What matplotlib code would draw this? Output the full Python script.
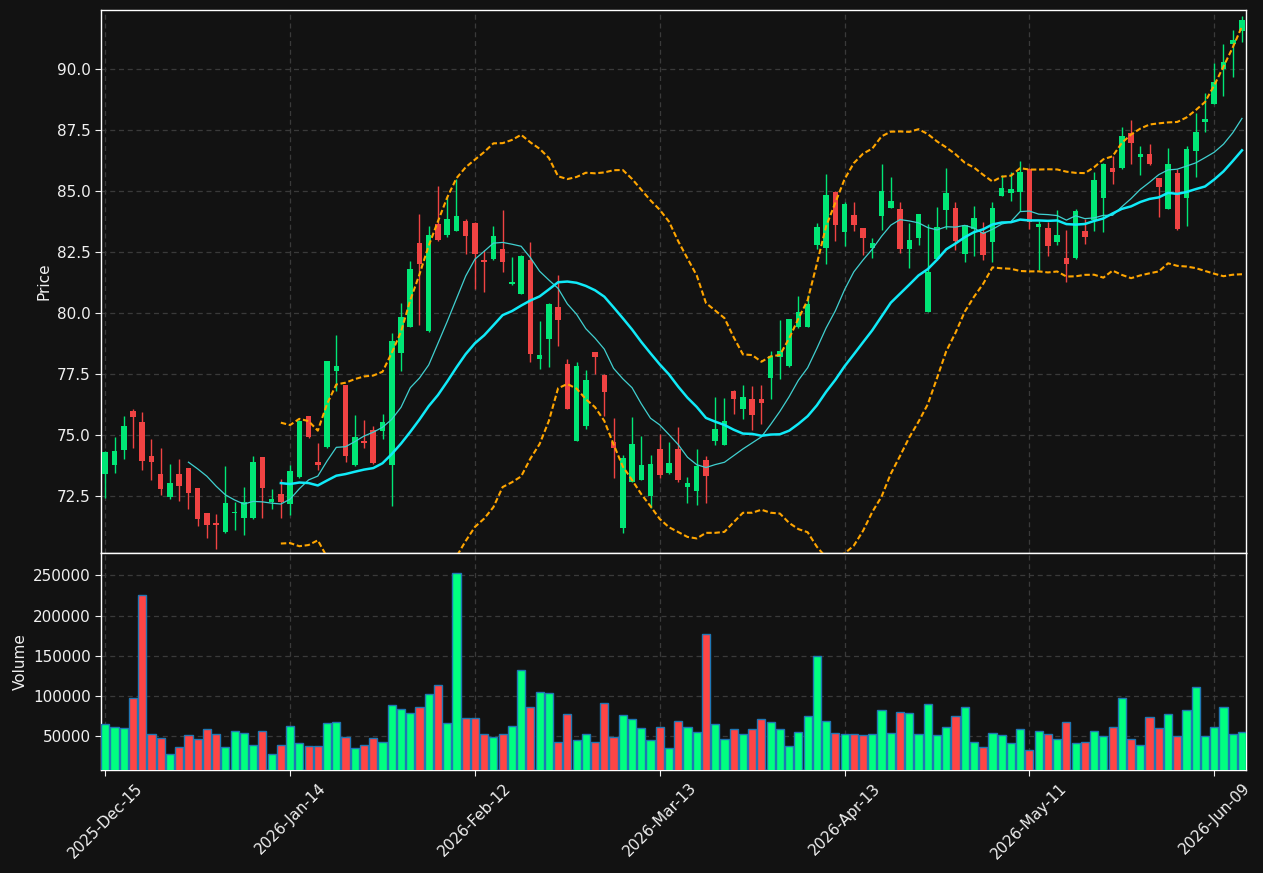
import matplotlib.pyplot as plt
import numpy as np
import pandas as pd
from matplotlib.ticker import FixedLocator

# trading days (NYSE calendar), first 2025-12-15
holidays = ['2025-12-25', '2026-01-01', '2026-01-19', '2026-02-16', '2026-04-03', '2026-05-25']
n_bars = 124

opens = [73.42, 73.77, 74.40, 75.98, 75.53, 74.14, 73.40, 72.46, 73.40, 73.65,
         72.83, 71.80, 71.39, 71.04, 71.80, 71.60, 71.60, 74.10, 72.27, 72.58,
         72.17, 73.29, 75.78, 73.89, 74.52, 77.64, 77.05, 73.78, 74.75, 75.20,
         75.18, 73.78, 78.38, 79.44, 82.87, 79.27, 83.65, 83.21, 83.37, 83.77,
         83.69, 82.18, 82.23, 82.64, 81.21, 80.79, 82.18, 78.13, 78.96, 80.26,
         77.92, 74.78, 75.40, 78.41, 77.47, 74.72, 71.21, 73.10, 73.19, 72.53,
         74.43, 73.45, 74.44, 72.89, 72.73, 73.99, 74.78, 74.61, 76.82, 76.09,
         76.49, 76.49, 77.36, 78.22, 77.85, 79.45, 79.45, 82.80, 82.69, 84.97,
         83.34, 84.03, 83.48, 82.69, 84.00, 84.33, 84.27, 82.65, 83.10, 80.06,
         82.22, 84.21, 84.32, 82.44, 83.45, 83.32, 82.92, 84.81, 84.92, 84.97,
         85.91, 83.55, 83.51, 82.93, 82.28, 82.25, 83.37, 83.82, 84.74, 85.95,
         85.93, 87.37, 86.39, 86.53, 85.53, 84.29, 85.75, 84.74, 86.65, 87.85,
         88.58, 90.00, 91.04, 91.58]
highs = [74.35, 74.93, 75.78, 76.09, 75.97, 74.86, 74.50, 73.81, 74.04, 73.68,
         72.85, 71.82, 71.79, 73.73, 72.27, 72.87, 74.14, 74.12, 72.81, 73.20,
         73.79, 75.62, 75.80, 74.70, 78.05, 79.10, 77.08, 75.85, 75.61, 75.40,
         75.89, 79.19, 80.44, 82.13, 84.06, 83.59, 85.20, 84.75, 85.49, 83.85,
         83.72, 82.59, 83.58, 84.23, 82.30, 82.37, 82.93, 79.70, 80.40, 81.56,
         78.11, 77.99, 77.66, 78.43, 77.50, 75.73, 74.21, 75.76, 74.98, 74.19,
         75.07, 74.72, 75.33, 73.30, 74.43, 74.15, 76.58, 76.54, 76.84, 77.05,
         77.01, 77.05, 78.44, 79.74, 79.77, 80.70, 80.74, 83.70, 85.70, 85.00,
         84.57, 84.55, 83.50, 83.07, 86.11, 85.60, 84.57, 83.69, 84.08, 83.65,
         84.35, 85.97, 84.57, 83.62, 84.41, 83.72, 84.55, 85.68, 85.79, 86.23,
         85.93, 83.76, 83.75, 84.23, 83.41, 84.27, 83.86, 85.78, 86.14, 86.45,
         87.62, 87.92, 86.86, 86.93, 85.55, 86.76, 85.89, 86.86, 88.20, 89.02,
         90.25, 91.02, 91.61, 92.18]
lows = [72.45, 73.47, 74.05, 74.50, 73.57, 73.16, 72.54, 72.39, 72.32, 71.98,
        71.30, 70.80, 70.36, 71.02, 71.12, 70.93, 71.58, 71.62, 71.98, 71.62,
        71.74, 73.25, 74.90, 73.57, 74.50, 76.82, 73.91, 73.76, 74.50, 73.84,
        74.84, 72.12, 77.64, 79.42, 79.51, 79.25, 82.98, 83.14, 83.35, 82.41,
        80.98, 80.88, 82.20, 81.68, 81.17, 80.77, 78.00, 77.73, 77.79, 78.67,
        76.07, 74.76, 75.24, 77.51, 75.79, 73.27, 71.00, 73.08, 73.17, 72.02,
        73.27, 73.43, 73.10, 72.24, 72.14, 72.21, 74.61, 74.59, 75.86, 75.68,
        75.20, 75.45, 76.48, 77.32, 77.79, 79.38, 79.43, 82.62, 82.01, 82.98,
        82.77, 83.38, 82.38, 82.28, 83.41, 84.31, 82.46, 81.84, 82.80, 80.04,
        82.20, 83.44, 82.59, 82.09, 82.35, 82.18, 82.12, 84.79, 84.61, 84.17,
        83.45, 81.78, 82.36, 82.79, 81.30, 82.23, 82.83, 83.35, 83.32, 85.30,
        85.91, 86.10, 85.66, 86.07, 83.96, 84.27, 83.41, 83.59, 85.60, 87.43,
        88.56, 88.88, 89.67, 91.13]
closes = [74.32, 74.34, 75.37, 75.75, 73.95, 73.91, 72.80, 73.03, 72.91, 72.62,
          71.57, 71.31, 71.31, 72.21, 71.84, 72.25, 73.89, 72.84, 72.38, 72.27,
          73.54, 75.59, 74.93, 73.78, 78.03, 77.83, 74.15, 74.92, 74.67, 73.86,
          75.53, 78.85, 79.84, 81.80, 82.02, 83.20, 83.00, 83.85, 83.98, 83.17,
          82.43, 82.10, 83.17, 82.10, 81.29, 82.35, 78.33, 78.29, 80.38, 79.74,
          76.09, 77.84, 77.27, 78.22, 76.79, 74.49, 74.06, 74.64, 73.78, 73.82,
          73.36, 73.86, 73.17, 73.06, 73.74, 73.33, 75.26, 75.59, 76.50, 76.56,
          75.83, 76.34, 78.24, 78.44, 79.75, 80.04, 80.37, 83.54, 84.85, 83.63,
          84.48, 83.63, 83.10, 82.88, 85.01, 84.60, 82.65, 82.99, 84.06, 81.69,
          83.53, 84.93, 82.95, 83.60, 83.90, 82.40, 84.32, 85.15, 85.08, 85.79,
          83.75, 83.66, 82.76, 83.21, 82.03, 84.19, 83.14, 85.46, 86.12, 85.80,
          87.27, 86.99, 86.53, 86.13, 85.16, 86.11, 83.45, 86.73, 87.43, 87.94,
          89.49, 90.29, 91.20, 92.02]
volumes = [64940, 61200, 59960, 97310, 225545, 52490, 47510, 27590, 36300, 51245,
           46265, 58715, 52490, 36300, 56225, 53735, 38795, 56225, 27590, 38795,
           62450, 41285, 37550, 37550, 66185, 67430, 48755, 35060, 38795, 47510,
           42530, 88595, 83615, 78635, 86105, 102290, 113495, 66185, 252935, 72410,
           72410, 52490, 48755, 52490, 62450, 132170, 86105, 104780, 103535, 42530,
           77390, 45020, 52490, 42530, 91085, 48755, 76145, 71165, 59960, 45020,
           61205, 35060, 68675, 61205, 54980, 176990, 64940, 46265, 58715, 52490,
           58715, 71165, 67430, 58715, 37550, 54980, 74900, 149600, 68675, 53735,
           52490, 52490, 51245, 52490, 82370, 53735, 79880, 78635, 52490, 89840,
           51245, 61205, 74900, 86105, 42530, 36300, 53735, 51245, 41285, 58715,
           32570, 56225, 52490, 46265, 67430, 41285, 42530, 56225, 50000, 61205,
           97310, 46265, 38795, 73655, 59960, 77390, 50000, 82370, 111005, 50000,
           61205, 86105, 52490, 54980]

dates = pd.date_range('2025-12-15', periods=n_bars,
                      freq=pd.offsets.CustomBusinessDay(holidays=holidays))
x = np.arange(n_bars)
o = np.array(opens)
h = np.array(highs)
l = np.array(lows)
c = np.array(closes)
v = np.array(volumes)

close_s = pd.Series(c)
ma10 = close_s.rolling(10).mean()
ma20 = close_s.rolling(20).mean()
sd20 = close_s.rolling(20).std(ddof=0)
bb_up = ma20 + 2 * sd20
bb_lo = ma20 - 2 * sd20

bg = '#121212'
up_col, dn_col = '#00e676', '#f04343'
vup_col, vdn_col = '#00ff80', '#ff4545'
txt = '#f0f0f0'

fig = plt.figure(figsize=(12.63, 8.73), dpi=100, facecolor=bg)
ax = fig.add_axes([0.0802, 0.3671, 0.9063, 0.6214])
axv = fig.add_axes([0.0802, 0.1180, 0.9063, 0.2491], sharex=ax)

for a in (ax, axv):
    a.set_facecolor(bg)
    for s in a.spines.values():
        s.set_color('white')
        s.set_linewidth(1.0)
    a.tick_params(colors=txt, labelsize=11, length=4)
    a.grid(True, color='#3a3a3a', linestyle=(0, (4, 3)), linewidth=0.9)
    a.set_axisbelow(True)

# candles
is_up = c >= o
body_bottom = np.minimum(o, c)
body_h = np.maximum(np.abs(c - o), 0.04)
ccol = np.where(is_up, up_col, dn_col)
ax.vlines(x, l, h, colors=ccol, linewidth=1.0, zorder=2)
ax.bar(x, body_h, bottom=body_bottom, width=0.6, color=ccol, linewidth=0, zorder=3)

# overlays
ax.plot(x, ma10, color='#40d0d0', linewidth=0.9, zorder=4)
ax.plot(x, ma20, color='#10eaf8', linewidth=1.8, zorder=4)
ax.plot(x, bb_up, color='#ffa500', linewidth=1.5, dashes=(2.6, 1.3), zorder=4)
ax.plot(x, bb_lo, color='#ffa500', linewidth=1.5, dashes=(2.6, 1.3), zorder=4)

ax.set_ylim(70.2, 92.42)
ax.set_yticks(np.arange(72.5, 90.1, 2.5))
ax.set_yticklabels(['%.1f' % t for t in np.arange(72.5, 90.1, 2.5)])
ax.set_ylabel('Price', color=txt, fontsize=11)
ax.tick_params(axis='x', labelbottom=False, length=0)

# volume
vcol = np.where(is_up, vup_col, vdn_col)
axv.bar(x, v, width=0.88, color=vcol, edgecolor='#1f77b4', linewidth=1.0, zorder=3)
axv.set_ylim(0.3 * v.min(), 1.1 * v.max())
axv.set_yticks([50000, 100000, 150000, 200000, 250000])
axv.set_yticklabels(['50000', '100000', '150000', '200000', '250000'])
axv.set_ylabel('Volume', color=txt, fontsize=11)

tick_idx = list(range(0, n_bars, 20))
axv.xaxis.set_major_locator(FixedLocator(tick_idx))
axv.set_xticklabels([dates[i].strftime('%Y-%b-%d') for i in tick_idx], rotation=45, ha='center')
axv.set_xlim(-0.43, n_bars - 0.57)

plt.savefig('out.png', dpi=100, facecolor=bg)
